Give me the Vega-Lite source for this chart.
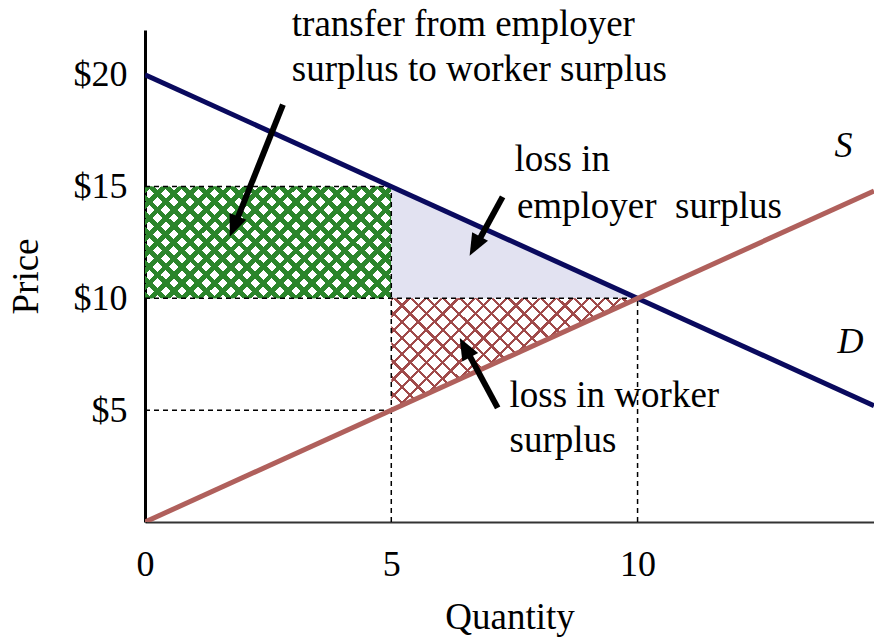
{
  "$schema": "https://vega.github.io/schema/vega-lite/v6.json",
  "width": 729,
  "height": 492,
  "autosize": {"type": "none"},
  "padding": {"left": 145, "top": 30, "right": 0, "bottom": 118},
  "background": "white",
  "config": {
    "view": {"stroke": null},
    "text": {"font": "Liberation Serif"},
    "mark": {"font": "Liberation Serif"},
    "axis": {
      "labelFont": "Liberation Serif",
      "titleFont": "Liberation Serif",
      "labelColor": "black",
      "titleColor": "black",
      "titleFontWeight": "normal",
      "labelFontSize": 36,
      "titleFontSize": 37,
      "ticks": false,
      "grid": false,
      "labelFlush": false
    }
  },
  "resolve": {"scale": {"color": "independent"}},
  "datasets": {
    "curves": [
      {"curve": "D", "q": 0, "p": 20},
      {"curve": "D", "q": 14.8, "p": 5.2},
      {"curve": "S", "q": 0, "p": 0},
      {"curve": "S", "q": 14.8, "p": 14.8}
    ],
    "rect": [{"q1": 0, "q2": 5, "p1": 10, "p2": 15}],
    "triE": [
      {"region": "employer", "q": 5, "p": 15, "p0": 10},
      {"region": "employer", "q": 10, "p": 10, "p0": 10}
    ],
    "triW": [
      {"region": "worker", "q": 5, "p": 5, "p0": 10},
      {"region": "worker", "q": 10, "p": 10, "p0": 10}
    ],
    "dashes": [
      {"q1": 5, "q2": 5, "p1": 0, "p2": 15},
      {"q1": 10, "q2": 10, "p1": 0, "p2": 10},
      {"q1": 0, "q2": 5, "p1": 5, "p2": 5},
      {"q1": 0, "q2": 10, "p1": 10, "p2": 10},
      {"q1": 0, "q2": 5, "p1": 15, "p2": 15}
    ],
    "arrows": [
      {"q1": 2.80, "p1": 18.66, "q2": 1.84, "p2": 13.37, "qt": 1.72, "pt": 12.75, "angle": 201.9},
      {"q1": 7.26, "p1": 14.54, "q2": 6.73, "p2": 12.40, "qt": 6.59, "pt": 11.90, "angle": 208.4},
      {"q1": 7.16, "p1": 5.10, "q2": 6.54, "p2": 7.64, "qt": 6.39, "pt": 8.23, "angle": 331.5}
    ],
    "notes": [
      {"q": 2.98, "p": 21.74, "label": "transfer from employer"},
      {"q": 2.98, "p": 19.72, "label": "surplus to worker surplus"},
      {"q": 7.50, "p": 15.70, "label": "loss in"},
      {"q": 7.55, "p": 13.60, "label": "employer\u00a0 surplus"},
      {"q": 7.40, "p": 5.15, "label": "loss in worker"},
      {"q": 7.40, "p": 3.13, "label": "surplus"}
    ],
    "curveLabels": [
      {"q": 14.0, "p": 16.33, "label": "S"},
      {"q": 14.06, "p": 7.56, "label": "D"}
    ]
  },
  "layer": [
    {
      "data": {"name": "rect"},
      "mark": {"type": "rect", "color": {"gradient": "linear", "x1": 0, "y1": 0, "x2": 1.2054, "y2": 0.5488, "stops": [
        {"offset": 0, "color": "#2b852b"}, {"offset": 0.0191, "color": "#2b852b"}, {"offset": 0.0191, "color": "rgba(255,255,255,0)"}, {"offset": 0.0455, "color": "rgba(255,255,255,0)"},
        {"offset": 0.0455, "color": "#2b852b"}, {"offset": 0.0645, "color": "#2b852b"}, {"offset": 0.0645, "color": "rgba(255,255,255,0)"}, {"offset": 0.0909, "color": "rgba(255,255,255,0)"},
        {"offset": 0.0909, "color": "#2b852b"}, {"offset": 0.1100, "color": "#2b852b"}, {"offset": 0.1100, "color": "rgba(255,255,255,0)"}, {"offset": 0.1364, "color": "rgba(255,255,255,0)"},
        {"offset": 0.1364, "color": "#2b852b"}, {"offset": 0.1555, "color": "#2b852b"}, {"offset": 0.1555, "color": "rgba(255,255,255,0)"}, {"offset": 0.1818, "color": "rgba(255,255,255,0)"},
        {"offset": 0.1818, "color": "#2b852b"}, {"offset": 0.2009, "color": "#2b852b"}, {"offset": 0.2009, "color": "rgba(255,255,255,0)"}, {"offset": 0.2273, "color": "rgba(255,255,255,0)"},
        {"offset": 0.2273, "color": "#2b852b"}, {"offset": 0.2464, "color": "#2b852b"}, {"offset": 0.2464, "color": "rgba(255,255,255,0)"}, {"offset": 0.2727, "color": "rgba(255,255,255,0)"},
        {"offset": 0.2727, "color": "#2b852b"}, {"offset": 0.2918, "color": "#2b852b"}, {"offset": 0.2918, "color": "rgba(255,255,255,0)"}, {"offset": 0.3182, "color": "rgba(255,255,255,0)"},
        {"offset": 0.3182, "color": "#2b852b"}, {"offset": 0.3373, "color": "#2b852b"}, {"offset": 0.3373, "color": "rgba(255,255,255,0)"}, {"offset": 0.3636, "color": "rgba(255,255,255,0)"},
        {"offset": 0.3636, "color": "#2b852b"}, {"offset": 0.3827, "color": "#2b852b"}, {"offset": 0.3827, "color": "rgba(255,255,255,0)"}, {"offset": 0.4091, "color": "rgba(255,255,255,0)"},
        {"offset": 0.4091, "color": "#2b852b"}, {"offset": 0.4282, "color": "#2b852b"}, {"offset": 0.4282, "color": "rgba(255,255,255,0)"}, {"offset": 0.4545, "color": "rgba(255,255,255,0)"},
        {"offset": 0.4545, "color": "#2b852b"}, {"offset": 0.4736, "color": "#2b852b"}, {"offset": 0.4736, "color": "rgba(255,255,255,0)"}, {"offset": 0.5000, "color": "rgba(255,255,255,0)"},
        {"offset": 0.5000, "color": "#2b852b"}, {"offset": 0.5191, "color": "#2b852b"}, {"offset": 0.5191, "color": "rgba(255,255,255,0)"}, {"offset": 0.5455, "color": "rgba(255,255,255,0)"},
        {"offset": 0.5455, "color": "#2b852b"}, {"offset": 0.5645, "color": "#2b852b"}, {"offset": 0.5645, "color": "rgba(255,255,255,0)"}, {"offset": 0.5909, "color": "rgba(255,255,255,0)"},
        {"offset": 0.5909, "color": "#2b852b"}, {"offset": 0.6100, "color": "#2b852b"}, {"offset": 0.6100, "color": "rgba(255,255,255,0)"}, {"offset": 0.6364, "color": "rgba(255,255,255,0)"},
        {"offset": 0.6364, "color": "#2b852b"}, {"offset": 0.6555, "color": "#2b852b"}, {"offset": 0.6555, "color": "rgba(255,255,255,0)"}, {"offset": 0.6818, "color": "rgba(255,255,255,0)"},
        {"offset": 0.6818, "color": "#2b852b"}, {"offset": 0.7009, "color": "#2b852b"}, {"offset": 0.7009, "color": "rgba(255,255,255,0)"}, {"offset": 0.7273, "color": "rgba(255,255,255,0)"},
        {"offset": 0.7273, "color": "#2b852b"}, {"offset": 0.7464, "color": "#2b852b"}, {"offset": 0.7464, "color": "rgba(255,255,255,0)"}, {"offset": 0.7727, "color": "rgba(255,255,255,0)"},
        {"offset": 0.7727, "color": "#2b852b"}, {"offset": 0.7918, "color": "#2b852b"}, {"offset": 0.7918, "color": "rgba(255,255,255,0)"}, {"offset": 0.8182, "color": "rgba(255,255,255,0)"},
        {"offset": 0.8182, "color": "#2b852b"}, {"offset": 0.8373, "color": "#2b852b"}, {"offset": 0.8373, "color": "rgba(255,255,255,0)"}, {"offset": 0.8636, "color": "rgba(255,255,255,0)"},
        {"offset": 0.8636, "color": "#2b852b"}, {"offset": 0.8827, "color": "#2b852b"}, {"offset": 0.8827, "color": "rgba(255,255,255,0)"}, {"offset": 0.9091, "color": "rgba(255,255,255,0)"},
        {"offset": 0.9091, "color": "#2b852b"}, {"offset": 0.9282, "color": "#2b852b"}, {"offset": 0.9282, "color": "rgba(255,255,255,0)"}, {"offset": 0.9545, "color": "rgba(255,255,255,0)"},
        {"offset": 0.9545, "color": "#2b852b"}, {"offset": 0.9736, "color": "#2b852b"}, {"offset": 0.9736, "color": "rgba(255,255,255,0)"}, {"offset": 1, "color": "rgba(255,255,255,0)"}
      ]}},
      "encoding": {
        "x": {"field": "q1", "type": "quantitative", "scale": {"domain": [0, 14.8], "nice": false},
          "axis": {"title": "Quantity", "values": [0, 5, 10], "domainColor": "#333333", "domainWidth": 2, "labelPadding": 25, "titlePadding": 17}},
        "x2": {"field": "q2"},
        "y": {"field": "p1", "type": "quantitative", "scale": {"domain": [0, 22], "nice": false},
          "axis": {"title": "Price", "values": [5, 10, 15, 20], "labelExpr": "'$' + datum.value", "domainColor": "black", "domainWidth": 3, "labelPadding": 18, "titlePadding": 28}},
        "y2": {"field": "p2"}
      }
    },
    {
      "data": {"name": "rect"},
      "mark": {"type": "rect", "color": {"gradient": "linear", "x1": 0, "y1": 1, "x2": 1.2054, "y2": 0.4512, "stops": [
        {"offset": 0, "color": "#2b852b"}, {"offset": 0.0191, "color": "#2b852b"}, {"offset": 0.0191, "color": "rgba(255,255,255,0)"}, {"offset": 0.0455, "color": "rgba(255,255,255,0)"},
        {"offset": 0.0455, "color": "#2b852b"}, {"offset": 0.0645, "color": "#2b852b"}, {"offset": 0.0645, "color": "rgba(255,255,255,0)"}, {"offset": 0.0909, "color": "rgba(255,255,255,0)"},
        {"offset": 0.0909, "color": "#2b852b"}, {"offset": 0.1100, "color": "#2b852b"}, {"offset": 0.1100, "color": "rgba(255,255,255,0)"}, {"offset": 0.1364, "color": "rgba(255,255,255,0)"},
        {"offset": 0.1364, "color": "#2b852b"}, {"offset": 0.1555, "color": "#2b852b"}, {"offset": 0.1555, "color": "rgba(255,255,255,0)"}, {"offset": 0.1818, "color": "rgba(255,255,255,0)"},
        {"offset": 0.1818, "color": "#2b852b"}, {"offset": 0.2009, "color": "#2b852b"}, {"offset": 0.2009, "color": "rgba(255,255,255,0)"}, {"offset": 0.2273, "color": "rgba(255,255,255,0)"},
        {"offset": 0.2273, "color": "#2b852b"}, {"offset": 0.2464, "color": "#2b852b"}, {"offset": 0.2464, "color": "rgba(255,255,255,0)"}, {"offset": 0.2727, "color": "rgba(255,255,255,0)"},
        {"offset": 0.2727, "color": "#2b852b"}, {"offset": 0.2918, "color": "#2b852b"}, {"offset": 0.2918, "color": "rgba(255,255,255,0)"}, {"offset": 0.3182, "color": "rgba(255,255,255,0)"},
        {"offset": 0.3182, "color": "#2b852b"}, {"offset": 0.3373, "color": "#2b852b"}, {"offset": 0.3373, "color": "rgba(255,255,255,0)"}, {"offset": 0.3636, "color": "rgba(255,255,255,0)"},
        {"offset": 0.3636, "color": "#2b852b"}, {"offset": 0.3827, "color": "#2b852b"}, {"offset": 0.3827, "color": "rgba(255,255,255,0)"}, {"offset": 0.4091, "color": "rgba(255,255,255,0)"},
        {"offset": 0.4091, "color": "#2b852b"}, {"offset": 0.4282, "color": "#2b852b"}, {"offset": 0.4282, "color": "rgba(255,255,255,0)"}, {"offset": 0.4545, "color": "rgba(255,255,255,0)"},
        {"offset": 0.4545, "color": "#2b852b"}, {"offset": 0.4736, "color": "#2b852b"}, {"offset": 0.4736, "color": "rgba(255,255,255,0)"}, {"offset": 0.5000, "color": "rgba(255,255,255,0)"},
        {"offset": 0.5000, "color": "#2b852b"}, {"offset": 0.5191, "color": "#2b852b"}, {"offset": 0.5191, "color": "rgba(255,255,255,0)"}, {"offset": 0.5455, "color": "rgba(255,255,255,0)"},
        {"offset": 0.5455, "color": "#2b852b"}, {"offset": 0.5645, "color": "#2b852b"}, {"offset": 0.5645, "color": "rgba(255,255,255,0)"}, {"offset": 0.5909, "color": "rgba(255,255,255,0)"},
        {"offset": 0.5909, "color": "#2b852b"}, {"offset": 0.6100, "color": "#2b852b"}, {"offset": 0.6100, "color": "rgba(255,255,255,0)"}, {"offset": 0.6364, "color": "rgba(255,255,255,0)"},
        {"offset": 0.6364, "color": "#2b852b"}, {"offset": 0.6555, "color": "#2b852b"}, {"offset": 0.6555, "color": "rgba(255,255,255,0)"}, {"offset": 0.6818, "color": "rgba(255,255,255,0)"},
        {"offset": 0.6818, "color": "#2b852b"}, {"offset": 0.7009, "color": "#2b852b"}, {"offset": 0.7009, "color": "rgba(255,255,255,0)"}, {"offset": 0.7273, "color": "rgba(255,255,255,0)"},
        {"offset": 0.7273, "color": "#2b852b"}, {"offset": 0.7464, "color": "#2b852b"}, {"offset": 0.7464, "color": "rgba(255,255,255,0)"}, {"offset": 0.7727, "color": "rgba(255,255,255,0)"},
        {"offset": 0.7727, "color": "#2b852b"}, {"offset": 0.7918, "color": "#2b852b"}, {"offset": 0.7918, "color": "rgba(255,255,255,0)"}, {"offset": 0.8182, "color": "rgba(255,255,255,0)"},
        {"offset": 0.8182, "color": "#2b852b"}, {"offset": 0.8373, "color": "#2b852b"}, {"offset": 0.8373, "color": "rgba(255,255,255,0)"}, {"offset": 0.8636, "color": "rgba(255,255,255,0)"},
        {"offset": 0.8636, "color": "#2b852b"}, {"offset": 0.8827, "color": "#2b852b"}, {"offset": 0.8827, "color": "rgba(255,255,255,0)"}, {"offset": 0.9091, "color": "rgba(255,255,255,0)"},
        {"offset": 0.9091, "color": "#2b852b"}, {"offset": 0.9282, "color": "#2b852b"}, {"offset": 0.9282, "color": "rgba(255,255,255,0)"}, {"offset": 0.9545, "color": "rgba(255,255,255,0)"},
        {"offset": 0.9545, "color": "#2b852b"}, {"offset": 0.9736, "color": "#2b852b"}, {"offset": 0.9736, "color": "rgba(255,255,255,0)"}, {"offset": 1, "color": "rgba(255,255,255,0)"}
      ]}},
      "encoding": {
        "x": {"field": "q1", "type": "quantitative"},
        "x2": {"field": "q2"},
        "y": {"field": "p1", "type": "quantitative"},
        "y2": {"field": "p2"}
      }
    },
    {
      "data": {"name": "triE"},
      "mark": {"type": "area", "line": false, "opacity": 1, "color": "#e2e2f1"},
      "encoding": {
        "x": {"field": "q", "type": "quantitative"},
        "y": {"field": "p", "type": "quantitative"},
        "y2": {"field": "p0"}
      }
    },
    {
      "data": {"name": "triW"},
      "mark": {"type": "area", "line": false, "opacity": 1, "color": {"gradient": "linear", "x1": 0, "y1": 0, "x2": 1.2054, "y2": 0.5488, "stops": [
        {"offset": 0, "color": "#a04a4a"}, {"offset": 0.0091, "color": "#a04a4a"}, {"offset": 0.0091, "color": "rgba(255,255,255,0)"}, {"offset": 0.0455, "color": "rgba(255,255,255,0)"},
        {"offset": 0.0455, "color": "#a04a4a"}, {"offset": 0.0546, "color": "#a04a4a"}, {"offset": 0.0546, "color": "rgba(255,255,255,0)"}, {"offset": 0.0909, "color": "rgba(255,255,255,0)"},
        {"offset": 0.0909, "color": "#a04a4a"}, {"offset": 0.1000, "color": "#a04a4a"}, {"offset": 0.1000, "color": "rgba(255,255,255,0)"}, {"offset": 0.1364, "color": "rgba(255,255,255,0)"},
        {"offset": 0.1364, "color": "#a04a4a"}, {"offset": 0.1455, "color": "#a04a4a"}, {"offset": 0.1455, "color": "rgba(255,255,255,0)"}, {"offset": 0.1818, "color": "rgba(255,255,255,0)"},
        {"offset": 0.1818, "color": "#a04a4a"}, {"offset": 0.1909, "color": "#a04a4a"}, {"offset": 0.1909, "color": "rgba(255,255,255,0)"}, {"offset": 0.2273, "color": "rgba(255,255,255,0)"},
        {"offset": 0.2273, "color": "#a04a4a"}, {"offset": 0.2364, "color": "#a04a4a"}, {"offset": 0.2364, "color": "rgba(255,255,255,0)"}, {"offset": 0.2727, "color": "rgba(255,255,255,0)"},
        {"offset": 0.2727, "color": "#a04a4a"}, {"offset": 0.2818, "color": "#a04a4a"}, {"offset": 0.2818, "color": "rgba(255,255,255,0)"}, {"offset": 0.3182, "color": "rgba(255,255,255,0)"},
        {"offset": 0.3182, "color": "#a04a4a"}, {"offset": 0.3273, "color": "#a04a4a"}, {"offset": 0.3273, "color": "rgba(255,255,255,0)"}, {"offset": 0.3636, "color": "rgba(255,255,255,0)"},
        {"offset": 0.3636, "color": "#a04a4a"}, {"offset": 0.3727, "color": "#a04a4a"}, {"offset": 0.3727, "color": "rgba(255,255,255,0)"}, {"offset": 0.4091, "color": "rgba(255,255,255,0)"},
        {"offset": 0.4091, "color": "#a04a4a"}, {"offset": 0.4182, "color": "#a04a4a"}, {"offset": 0.4182, "color": "rgba(255,255,255,0)"}, {"offset": 0.4545, "color": "rgba(255,255,255,0)"},
        {"offset": 0.4545, "color": "#a04a4a"}, {"offset": 0.4636, "color": "#a04a4a"}, {"offset": 0.4636, "color": "rgba(255,255,255,0)"}, {"offset": 0.5000, "color": "rgba(255,255,255,0)"},
        {"offset": 0.5000, "color": "#a04a4a"}, {"offset": 0.5091, "color": "#a04a4a"}, {"offset": 0.5091, "color": "rgba(255,255,255,0)"}, {"offset": 0.5455, "color": "rgba(255,255,255,0)"},
        {"offset": 0.5455, "color": "#a04a4a"}, {"offset": 0.5546, "color": "#a04a4a"}, {"offset": 0.5546, "color": "rgba(255,255,255,0)"}, {"offset": 0.5909, "color": "rgba(255,255,255,0)"},
        {"offset": 0.5909, "color": "#a04a4a"}, {"offset": 0.6000, "color": "#a04a4a"}, {"offset": 0.6000, "color": "rgba(255,255,255,0)"}, {"offset": 0.6364, "color": "rgba(255,255,255,0)"},
        {"offset": 0.6364, "color": "#a04a4a"}, {"offset": 0.6455, "color": "#a04a4a"}, {"offset": 0.6455, "color": "rgba(255,255,255,0)"}, {"offset": 0.6818, "color": "rgba(255,255,255,0)"},
        {"offset": 0.6818, "color": "#a04a4a"}, {"offset": 0.6909, "color": "#a04a4a"}, {"offset": 0.6909, "color": "rgba(255,255,255,0)"}, {"offset": 0.7273, "color": "rgba(255,255,255,0)"},
        {"offset": 0.7273, "color": "#a04a4a"}, {"offset": 0.7364, "color": "#a04a4a"}, {"offset": 0.7364, "color": "rgba(255,255,255,0)"}, {"offset": 0.7727, "color": "rgba(255,255,255,0)"},
        {"offset": 0.7727, "color": "#a04a4a"}, {"offset": 0.7818, "color": "#a04a4a"}, {"offset": 0.7818, "color": "rgba(255,255,255,0)"}, {"offset": 0.8182, "color": "rgba(255,255,255,0)"},
        {"offset": 0.8182, "color": "#a04a4a"}, {"offset": 0.8273, "color": "#a04a4a"}, {"offset": 0.8273, "color": "rgba(255,255,255,0)"}, {"offset": 0.8636, "color": "rgba(255,255,255,0)"},
        {"offset": 0.8636, "color": "#a04a4a"}, {"offset": 0.8727, "color": "#a04a4a"}, {"offset": 0.8727, "color": "rgba(255,255,255,0)"}, {"offset": 0.9091, "color": "rgba(255,255,255,0)"},
        {"offset": 0.9091, "color": "#a04a4a"}, {"offset": 0.9182, "color": "#a04a4a"}, {"offset": 0.9182, "color": "rgba(255,255,255,0)"}, {"offset": 0.9545, "color": "rgba(255,255,255,0)"},
        {"offset": 0.9545, "color": "#a04a4a"}, {"offset": 0.9636, "color": "#a04a4a"}, {"offset": 0.9636, "color": "rgba(255,255,255,0)"}, {"offset": 1, "color": "rgba(255,255,255,0)"}
      ]}},
      "encoding": {
        "x": {"field": "q", "type": "quantitative"},
        "y": {"field": "p", "type": "quantitative"},
        "y2": {"field": "p0"}
      }
    },
    {
      "data": {"name": "triW"},
      "mark": {"type": "area", "line": false, "opacity": 1, "color": {"gradient": "linear", "x1": 0, "y1": 1, "x2": 1.2054, "y2": 0.4512, "stops": [
        {"offset": 0, "color": "#a04a4a"}, {"offset": 0.0091, "color": "#a04a4a"}, {"offset": 0.0091, "color": "rgba(255,255,255,0)"}, {"offset": 0.0455, "color": "rgba(255,255,255,0)"},
        {"offset": 0.0455, "color": "#a04a4a"}, {"offset": 0.0546, "color": "#a04a4a"}, {"offset": 0.0546, "color": "rgba(255,255,255,0)"}, {"offset": 0.0909, "color": "rgba(255,255,255,0)"},
        {"offset": 0.0909, "color": "#a04a4a"}, {"offset": 0.1000, "color": "#a04a4a"}, {"offset": 0.1000, "color": "rgba(255,255,255,0)"}, {"offset": 0.1364, "color": "rgba(255,255,255,0)"},
        {"offset": 0.1364, "color": "#a04a4a"}, {"offset": 0.1455, "color": "#a04a4a"}, {"offset": 0.1455, "color": "rgba(255,255,255,0)"}, {"offset": 0.1818, "color": "rgba(255,255,255,0)"},
        {"offset": 0.1818, "color": "#a04a4a"}, {"offset": 0.1909, "color": "#a04a4a"}, {"offset": 0.1909, "color": "rgba(255,255,255,0)"}, {"offset": 0.2273, "color": "rgba(255,255,255,0)"},
        {"offset": 0.2273, "color": "#a04a4a"}, {"offset": 0.2364, "color": "#a04a4a"}, {"offset": 0.2364, "color": "rgba(255,255,255,0)"}, {"offset": 0.2727, "color": "rgba(255,255,255,0)"},
        {"offset": 0.2727, "color": "#a04a4a"}, {"offset": 0.2818, "color": "#a04a4a"}, {"offset": 0.2818, "color": "rgba(255,255,255,0)"}, {"offset": 0.3182, "color": "rgba(255,255,255,0)"},
        {"offset": 0.3182, "color": "#a04a4a"}, {"offset": 0.3273, "color": "#a04a4a"}, {"offset": 0.3273, "color": "rgba(255,255,255,0)"}, {"offset": 0.3636, "color": "rgba(255,255,255,0)"},
        {"offset": 0.3636, "color": "#a04a4a"}, {"offset": 0.3727, "color": "#a04a4a"}, {"offset": 0.3727, "color": "rgba(255,255,255,0)"}, {"offset": 0.4091, "color": "rgba(255,255,255,0)"},
        {"offset": 0.4091, "color": "#a04a4a"}, {"offset": 0.4182, "color": "#a04a4a"}, {"offset": 0.4182, "color": "rgba(255,255,255,0)"}, {"offset": 0.4545, "color": "rgba(255,255,255,0)"},
        {"offset": 0.4545, "color": "#a04a4a"}, {"offset": 0.4636, "color": "#a04a4a"}, {"offset": 0.4636, "color": "rgba(255,255,255,0)"}, {"offset": 0.5000, "color": "rgba(255,255,255,0)"},
        {"offset": 0.5000, "color": "#a04a4a"}, {"offset": 0.5091, "color": "#a04a4a"}, {"offset": 0.5091, "color": "rgba(255,255,255,0)"}, {"offset": 0.5455, "color": "rgba(255,255,255,0)"},
        {"offset": 0.5455, "color": "#a04a4a"}, {"offset": 0.5546, "color": "#a04a4a"}, {"offset": 0.5546, "color": "rgba(255,255,255,0)"}, {"offset": 0.5909, "color": "rgba(255,255,255,0)"},
        {"offset": 0.5909, "color": "#a04a4a"}, {"offset": 0.6000, "color": "#a04a4a"}, {"offset": 0.6000, "color": "rgba(255,255,255,0)"}, {"offset": 0.6364, "color": "rgba(255,255,255,0)"},
        {"offset": 0.6364, "color": "#a04a4a"}, {"offset": 0.6455, "color": "#a04a4a"}, {"offset": 0.6455, "color": "rgba(255,255,255,0)"}, {"offset": 0.6818, "color": "rgba(255,255,255,0)"},
        {"offset": 0.6818, "color": "#a04a4a"}, {"offset": 0.6909, "color": "#a04a4a"}, {"offset": 0.6909, "color": "rgba(255,255,255,0)"}, {"offset": 0.7273, "color": "rgba(255,255,255,0)"},
        {"offset": 0.7273, "color": "#a04a4a"}, {"offset": 0.7364, "color": "#a04a4a"}, {"offset": 0.7364, "color": "rgba(255,255,255,0)"}, {"offset": 0.7727, "color": "rgba(255,255,255,0)"},
        {"offset": 0.7727, "color": "#a04a4a"}, {"offset": 0.7818, "color": "#a04a4a"}, {"offset": 0.7818, "color": "rgba(255,255,255,0)"}, {"offset": 0.8182, "color": "rgba(255,255,255,0)"},
        {"offset": 0.8182, "color": "#a04a4a"}, {"offset": 0.8273, "color": "#a04a4a"}, {"offset": 0.8273, "color": "rgba(255,255,255,0)"}, {"offset": 0.8636, "color": "rgba(255,255,255,0)"},
        {"offset": 0.8636, "color": "#a04a4a"}, {"offset": 0.8727, "color": "#a04a4a"}, {"offset": 0.8727, "color": "rgba(255,255,255,0)"}, {"offset": 0.9091, "color": "rgba(255,255,255,0)"},
        {"offset": 0.9091, "color": "#a04a4a"}, {"offset": 0.9182, "color": "#a04a4a"}, {"offset": 0.9182, "color": "rgba(255,255,255,0)"}, {"offset": 0.9545, "color": "rgba(255,255,255,0)"},
        {"offset": 0.9545, "color": "#a04a4a"}, {"offset": 0.9636, "color": "#a04a4a"}, {"offset": 0.9636, "color": "rgba(255,255,255,0)"}, {"offset": 1, "color": "rgba(255,255,255,0)"}
      ]}},
      "encoding": {
        "x": {"field": "q", "type": "quantitative"},
        "y": {"field": "p", "type": "quantitative"},
        "y2": {"field": "p0"}
      }
    },
    {
      "data": {"name": "dashes"},
      "mark": {"type": "rule", "color": "black", "strokeWidth": 1.5, "strokeDash": [5, 4]},
      "encoding": {
        "x": {"field": "q1", "type": "quantitative"},
        "x2": {"field": "q2"},
        "y": {"field": "p1", "type": "quantitative"},
        "y2": {"field": "p2"}
      }
    },
    {
      "data": {"name": "curves"},
      "mark": {"type": "line", "strokeWidth": 5, "clip": true, "opacity": 1},
      "encoding": {
        "x": {"field": "q", "type": "quantitative"},
        "y": {"field": "p", "type": "quantitative"},
        "detail": {"field": "curve"},
        "stroke": {"field": "curve", "type": "nominal", "scale": {"domain": ["D", "S"], "range": ["#0a0a5e", "#b0605c"]}, "legend": null}
      }
    },
    {
      "data": {"name": "arrows"},
      "mark": {"type": "rule", "color": "black", "strokeWidth": 6, "strokeCap": "butt"},
      "encoding": {
        "x": {"field": "q1", "type": "quantitative"},
        "x2": {"field": "q2"},
        "y": {"field": "p1", "type": "quantitative"},
        "y2": {"field": "p2"}
      }
    },
    {
      "data": {"name": "arrows"},
      "mark": {"type": "point", "shape": "M0,0L-0.45,1.1L0.45,1.1Z", "filled": true, "color": "black", "opacity": 1, "size": 1600, "strokeWidth": 0},
      "encoding": {
        "x": {"field": "qt", "type": "quantitative"},
        "y": {"field": "pt", "type": "quantitative"},
        "angle": {"field": "angle", "type": "quantitative", "scale": null}
      }
    },
    {
      "data": {"name": "notes"},
      "mark": {"type": "text", "align": "left", "baseline": "alphabetic", "fontSize": 37, "font": "Liberation Serif", "color": "black"},
      "encoding": {
        "x": {"field": "q", "type": "quantitative"},
        "y": {"field": "p", "type": "quantitative"},
        "text": {"field": "label"}
      }
    },
    {
      "data": {"name": "curveLabels"},
      "mark": {"type": "text", "align": "left", "baseline": "alphabetic", "fontSize": 36, "font": "Liberation Serif", "fontStyle": "italic", "color": "black"},
      "encoding": {
        "x": {"field": "q", "type": "quantitative"},
        "y": {"field": "p", "type": "quantitative"},
        "text": {"field": "label"}
      }
    }
  ]
}
